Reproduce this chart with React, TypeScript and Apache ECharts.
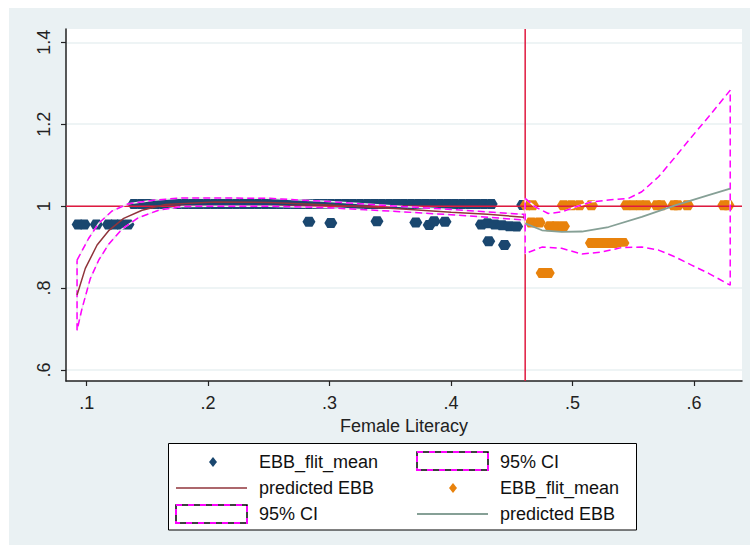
import React, { useEffect, useRef } from "react";
import * as echarts from "echarts";

// ---- axis ----
const X_MIN = 0.083;
const X_MAX = 0.6395;
const Y_MIN = 0.573;
const Y_MAX = 1.4325;
const xTicks = [0.1, 0.2, 0.3, 0.4, 0.5, 0.6];
const yTicks = [0.6, 0.8, 1, 1.2, 1.4];
const refY = 1;
const refX = 0.461;

// ---- blue group (EBB_flit_mean, left) ----
const blueX = [
  0.093, 0.098, 0.108, 0.118, 0.123, 0.128, 0.134,
  0.139, 0.145, 0.151, 0.157, 0.163, 0.169, 0.175, 0.181, 0.187, 0.193,
  0.199, 0.205, 0.211, 0.217, 0.223, 0.229, 0.235, 0.241, 0.247, 0.253,
  0.259, 0.265, 0.271, 0.277, 0.283, 0.289, 0.295, 0.301, 0.307, 0.313,
  0.319, 0.325, 0.331, 0.337, 0.343, 0.349, 0.355, 0.361, 0.367, 0.373,
  0.379, 0.385, 0.391, 0.397, 0.403, 0.409, 0.415, 0.421, 0.427, 0.433, 0.459,
  0.283, 0.301, 0.339, 0.371, 0.382, 0.386, 0.395,
  0.425, 0.430, 0.436, 0.442, 0.448, 0.454,
  0.431, 0.444,
];
const blueY = [
  0.955, 0.955, 0.955, 0.955, 0.955, 0.955, 0.955,
  1.005, 1.005, 1.005, 1.005, 1.005, 1.005, 1.005, 1.005, 1.005, 1.005,
  1.005, 1.005, 1.005, 1.005, 1.005, 1.005, 1.005, 1.005, 1.005, 1.005,
  1.005, 1.005, 1.005, 1.005, 1.005, 1.005, 1.005, 1.005, 1.005, 1.005,
  1.005, 1.005, 1.005, 1.005, 1.005, 1.005, 1.005, 1.005, 1.005, 1.005,
  1.005, 1.005, 1.005, 1.005, 1.005, 1.005, 1.005, 1.005, 1.005, 1.005, 1.003,
  0.962, 0.959, 0.963, 0.96, 0.954, 0.963, 0.962,
  0.955, 0.958, 0.955, 0.953, 0.951, 0.95,
  0.914, 0.905,
];

// left fit
const leftFitX = [0.0921, 0.0989, 0.1086, 0.1181, 0.1305, 0.1456, 0.1648, 0.2059, 0.25, 0.30, 0.33, 0.36, 0.40, 0.43, 0.46];
const leftFitY = [0.783, 0.848, 0.905, 0.94, 0.97, 0.99, 1.004, 1.01, 1.009, 1.003, 0.998, 0.993, 0.985, 0.98, 0.973];
const leftUpX = [0.0921, 0.1016, 0.1099, 0.1209, 0.1346, 0.1565, 0.1785, 0.2059, 0.25, 0.30, 0.33, 0.36, 0.40, 0.43, 0.46];
const leftUpY = [0.868, 0.921, 0.958, 0.988, 1.006, 1.015, 1.02, 1.02, 1.019, 1.011, 1.005, 0.999, 0.992, 0.986, 0.98];
const leftLoX = [0.0921, 0.0962, 0.103, 0.1099, 0.1181, 0.1291, 0.1428, 0.1593, 0.1785, 0.2059, 0.25, 0.30, 0.33, 0.36, 0.40, 0.43, 0.46];
const leftLoY = [0.697, 0.75, 0.823, 0.868, 0.907, 0.944, 0.972, 0.99, 0.999, 1.0, 1.0, 0.996, 0.991, 0.986, 0.979, 0.973, 0.966];

// ---- orange group (EBB_flit_mean, right) ----
const orangeX = [
  0.462, 0.467, 0.4925, 0.499, 0.5055, 0.5155, 0.5445, 0.55, 0.5555, 0.5605,
  0.5695, 0.573, 0.5835, 0.5865, 0.5945, 0.6245, 0.628,
  0.466, 0.4725,
  0.4815, 0.4865, 0.4925,
  0.5155, 0.52, 0.5245, 0.529, 0.5335, 0.538, 0.5415,
  0.475, 0.48,
];
const orangeY = [
  1.002, 1.002, 1.002, 1.002, 1.002, 1.002, 1.002, 1.002, 1.002, 1.002,
  1.002, 1.002, 1.002, 1.002, 1.002, 1.002, 1.002,
  0.96, 0.96,
  0.951, 0.951, 0.951,
  0.91, 0.91, 0.91, 0.91, 0.91, 0.91, 0.91,
  0.837, 0.837,
];

// right fit
const rightFitX = [0.461, 0.4748, 0.491, 0.5077, 0.5296, 0.557, 0.5845, 0.612, 0.6298];
const rightFitY = [0.958, 0.941, 0.937, 0.938, 0.949, 0.974, 1.002, 1.027, 1.043];
const rightUpX = [0.461, 0.4693, 0.48, 0.4913, 0.5022, 0.5159, 0.5296, 0.546, 0.557, 0.5708, 0.5845, 0.598, 0.612, 0.6298];
const rightUpY = [1.019, 0.998, 0.982, 0.986, 0.998, 1.0105, 1.015, 1.019, 1.035, 1.0716, 1.12, 1.169, 1.218, 1.283];
const rightLoX = [0.461, 0.4748, 0.491, 0.5077, 0.524, 0.5407, 0.557, 0.5708, 0.5845, 0.598, 0.612, 0.6298];
const rightLoY = [0.884, 0.9, 0.897, 0.883, 0.888, 0.899, 0.9, 0.8926, 0.876, 0.856, 0.836, 0.807];

// ---- legend ----
const legendLabels = ["EBB_flit_mean", "95% CI", "predicted EBB", "EBB_flit_mean", "95% CI", "predicted EBB"];

const FONT = "'Liberation Sans', Arial, Helvetica, sans-serif";
const BLUE = "#1a476f";
const ORANGE = "#e8820c";
const MAROON = "#90353b";
const GREENGRAY = "#86a096";
const MAGENTA = "#ff00ff";
const RED = "#e0193f";
const HEX = "path://M0,5L3,0L10,0L13,5L10,10L3,10Z";

const pairs = (xs: number[], ys: number[]) => xs.map((x, i) => [x, ys[i]]);
const band = (ux: number[], uy: number[], lx: number[], ly: number[]) => {
  const up = pairs(ux, uy);
  const lo = pairs(lx, ly).reverse();
  return [...up, ...lo, up[0]];
};
const fmt = (v: number) => String(Math.round(v * 10) / 10).replace(/^0\./, ".");

export default function App() {
  const ref = useRef<HTMLDivElement>(null);
  useEffect(() => {
    if (!ref.current) return;
    const chart = echarts.init(ref.current, undefined, { renderer: "svg" });

    const lineS = (data: number[][], color: string, width: number, type: any = "solid") => ({
      type: "line",
      data,
      showSymbol: false,
      symbol: "none",
      silent: true,
      lineStyle: { color, width, type },
    });

    const legendText = (x: number, y: number, text: string) => ({
      type: "text",
      x,
      y,
      style: { text, fill: "#111", font: `18px ${FONT}`, textVerticalAlign: "middle", textAlign: "left" },
    });
    const ciKey = (x: number, y: number) => [
      { type: "rect", shape: { x, y, width: 71, height: 18 }, style: { fill: "#fff", stroke: "#000", lineWidth: 1.5 } },
      { type: "rect", shape: { x, y, width: 71, height: 18 }, style: { fill: "none", stroke: MAGENTA, lineWidth: 2, lineDash: [6, 6] } },
    ];
    const diamond = (cx: number, cy: number, color: string) => ({
      type: "polygon",
      shape: { points: [[cx, cy - 5], [cx + 4, cy], [cx, cy + 5], [cx - 4, cy]] },
      style: { fill: color },
    });

    const scatterS = (data: number[][], color: string) => ({
      type: "scatter",
      data,
      symbol: HEX,
      symbolSize: [13, 10],
      itemStyle: { color, opacity: 1 },
      silent: true,
    });

    chart.setOption({
      animation: false,
      backgroundColor: "transparent",
      textStyle: { fontFamily: FONT },
      grid: { left: 66, right: 8, top: 29, bottom: 172, show: true, backgroundColor: "#ffffff", borderWidth: 0 },
      xAxis: {
        type: "value",
        min: X_MIN,
        max: X_MAX,
        name: "Female Literacy",
        nameLocation: "middle",
        nameGap: 30,
        nameTextStyle: { fontSize: 18, color: "#222", fontFamily: FONT },
        axisLine: { show: true, onZero: false, lineStyle: { color: "#222", width: 1.5 } },
        axisTick: { show: true, inside: false, length: 5, customValues: xTicks, lineStyle: { color: "#222", width: 1.2 } },
        axisLabel: { customValues: xTicks, formatter: fmt, fontSize: 18, color: "#222", margin: 13, fontFamily: FONT },
        splitLine: { show: false },
      },
      yAxis: {
        type: "value",
        min: Y_MIN,
        max: Y_MAX,
        axisLine: { show: true, onZero: false, lineStyle: { color: "#222", width: 1.5 } },
        axisTick: { show: true, inside: false, length: 5, customValues: yTicks, lineStyle: { color: "#222", width: 1.2 } },
        axisLabel: { customValues: yTicks, formatter: fmt, fontSize: 18, color: "#222", margin: 13, rotate: 90, fontFamily: FONT },
        splitLine: { show: true, lineStyle: { color: "#e8f0f2", width: 1.5 } },
      },
      series: [
        lineS([[X_MIN, refY], [X_MAX, refY]], RED, 1.5),
        lineS([[refX, Y_MIN], [refX, Y_MAX]], RED, 1.5),
        scatterS(pairs(blueX, blueY), BLUE),
        lineS(band(leftUpX, leftUpY, leftLoX, leftLoY), "#ececec", 1.5),
        lineS(band(leftUpX, leftUpY, leftLoX, leftLoY), MAGENTA, 1.5, [7, 4]),
        lineS(pairs(leftFitX, leftFitY), MAROON, 1.5),
        scatterS(pairs(orangeX, orangeY), ORANGE),
        lineS(band(rightUpX, rightUpY, rightLoX, rightLoY), "#ffffff", 1.5),
        lineS(band(rightUpX, rightUpY, rightLoX, rightLoY), MAGENTA, 1.5, [7, 4]),
        lineS(pairs(rightFitX, rightFitY), GREENGRAY, 1.8),
      ],
      graphic: [
        { type: "rect", shape: { x: 168.5, y: 443.5, width: 468, height: 86.5 }, style: { fill: "#fff", stroke: "#000", lineWidth: 1 } },
        diamond(213, 462, BLUE),
        legendText(259, 462, legendLabels[0]),
        ...ciKey(417, 452),
        legendText(500, 462, legendLabels[1]),
        { type: "line", shape: { x1: 176, y1: 488, x2: 247, y2: 488 }, style: { stroke: MAROON, lineWidth: 1.5 } },
        legendText(259, 488, legendLabels[2]),
        diamond(453, 488, ORANGE),
        legendText(500, 488, legendLabels[3]),
        ...ciKey(176, 505),
        legendText(259, 514, legendLabels[4]),
        { type: "line", shape: { x1: 417, y1: 514, x2: 488, y2: 514 }, style: { stroke: GREENGRAY, lineWidth: 1.8 } },
        legendText(500, 514, legendLabels[5]),
      ],
    });
    return () => chart.dispose();
  }, []);

  return (
    <div style={{ position: "absolute", left: 0, top: 0, width: 750, height: 553, background: "#ffffff" }}>
      <div style={{ position: "absolute", left: 9, top: 8, width: 741, height: 537, background: "#eaf1f3" }} />
      <div ref={ref} style={{ position: "absolute", left: 0, top: 0, width: 750, height: 553 }} />
    </div>
  );
}
